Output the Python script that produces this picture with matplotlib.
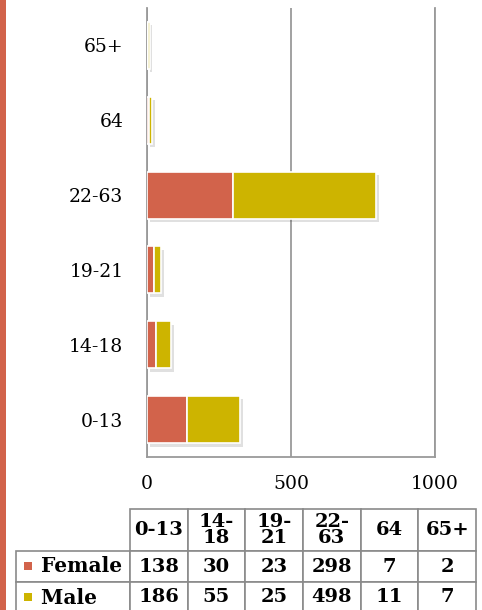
import matplotlib
matplotlib.use("Agg")
import matplotlib.pyplot as plt
import matplotlib.patheffects as pe
from matplotlib.patches import Rectangle

categories = ["0-13", "14-18", "19-21", "22-63", "64", "65+"]
header_labels = ["0-13", "14-\n18", "19-\n21", "22-\n63", "64", "65+"]
female = [138, 30, 23, 298, 7, 2]
male = [186, 55, 25, 498, 11, 7]
series_names = ["Female", "Male"]
xticks = [0, 500, 1000]

C_F = "#D2634B"
C_M = "#CDB400"
GRID = "#9a9a9a"
FONT = "DejaVu Serif"

W, H = 482, 610
fig = plt.figure(figsize=(W / 100, H / 100), dpi=100)

def px(x0, y0, x1, y1):
    return [x0 / W, 1 - y1 / H, (x1 - x0) / W, (y1 - y0) / H]

# left accent bar
fig.patches.append(Rectangle((0, 0), 6 / W, 1, transform=fig.transFigure,
                             facecolor=C_F, edgecolor="none"))

ax = fig.add_axes(px(147, 8, 435, 457))
y = list(range(len(categories)))
shadow = [pe.withSimplePatchShadow(offset=(2, -2.5), shadow_rgbFace="black", alpha=0.12)]
ax.barh(y, female, height=0.63, color=C_F, edgecolor="white", linewidth=1.2,
        zorder=3, path_effects=shadow)
ax.barh(y, male, left=female, height=0.63, color=C_M, edgecolor="white",
        linewidth=1.2, zorder=3, path_effects=shadow)
ax.set_xlim(0, 1000)
ax.set_ylim(-0.5, len(categories) - 0.5)
ax.set_xticks(xticks)
ax.set_xticklabels([str(t) for t in xticks], fontfamily=FONT, fontsize=13.5)
ax.set_yticks(y)
ax.set_yticklabels(categories, fontfamily=FONT, fontsize=13.5)
ax.tick_params(axis="both", length=0)
ax.tick_params(axis="y", pad=17)
ax.tick_params(axis="x", pad=13)
ax.grid(axis="x", color=GRID, linewidth=1.3, zorder=1)
ax.spines["top"].set_visible(False)
for s in ["left", "bottom", "right"]:
    ax.spines[s].set_color(GRID)
    ax.spines[s].set_linewidth(1.3)

# data table
tax = fig.add_axes(px(16, 509, 476, 613))
tax.axis("off")
cell_text = [[""] + header_labels,
             [series_names[0]] + [str(v) for v in female],
             [series_names[1]] + [str(v) for v in male]]
tbl = tax.table(cellText=cell_text, bbox=[0, 0, 1, 1], cellLoc="center")
tbl.auto_set_font_size(False)
col_w = [114] + [57.7] * 6
row_h = [42, 31, 31]
for (r, c), cell in tbl.get_celld().items():
    cell.set_width(col_w[c])
    cell.set_height(row_h[r])
    cell.set_edgecolor("#8a8a8a")
    cell.set_linewidth(1.2)
    t = cell.get_text()
    t.set_fontfamily(FONT)
    t.set_fontweight("bold")
    t.set_fontsize(14)
    if r == 0:
        t.set_linespacing(0.85)
    if c == 0 and r > 0:
        t.set_text("  " + t.get_text())
        t.set_ha("left")
        cell._loc = "left"
        t.set_fontsize(14.5)
tbl[(0, 0)].visible_edges = ""

# legend keys in table
for i, col in enumerate([C_F, C_M]):
    yc = 566 + i * 31
    fig.patches.append(Rectangle((24 / W, 1 - (yc + 4) / H), 8 / W, 8 / H,
                                 transform=fig.transFigure, facecolor=col,
                                 edgecolor="none"))

fig.savefig("out.png", dpi=100)
